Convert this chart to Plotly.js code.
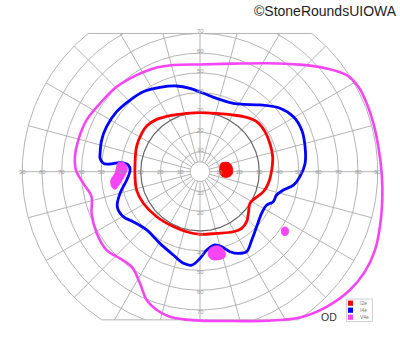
<!DOCTYPE html>
<html><head><meta charset="utf-8">
<script src="https://cdn.plot.ly/plotly-3.0.1.min.js"></script>
<style>html,body{margin:0;padding:0;background:#fff}#chart{width:400px;height:352px}</style>
</head><body><div id="chart"></div>
<script>
// ---- Data (visual field coordinates in degrees: x = horizontal, y = vertical) ----
const i2eX = [-27.0,-21.9,-13.5,-6.8,0,8.4,16.9,23.6,28.7,32.9,35.4,36.8,36.3,34.6,32.1,27.8,25.3,24.5,23.6,21.1,16.9,8.4,0,-6.8,-13.5,-21.9,-28.7,-32.1,-32.9,-32.9,-32.1,-29.5];
const i2eY = [23.1,26.5,28.7,29.5,29.9,29.5,28.7,27.5,25.3,20.3,14.3,7.6,0.8,-5.9,-10.1,-13.5,-16.0,-21.1,-25.3,-28.7,-30.4,-31.2,-31.7,-30.4,-27.8,-22.8,-16.0,-9.3,-2.5,4.2,12.7,19.4];
const i2eSpotX = [10.6,14.3,16.0,16.4,14.9,11.5,10.1,10.1];
const i2eSpotY = [4.2,4.6,3.0,-0.8,-2.5,-2.5,-0.5,2.5];

const i4eX = [-50.6,-50.6,-49.8,-47.3,-42.2,-35.4,-28.7,-20.3,-11.8,-5.1,1.7,8.4,16.9,21.9,30.4,40.5,47.3,51.5,53.2,53.2,50.6,47.3,42.2,38.8,37.1,33.8,31.2,28.7,26.2,23.6,19.4,15.2,11.0,7.6,3.4,0,-4.2,-8.4,-13.5,-20.3,-27.0,-33.8,-38.8,-41.9,-40.5,-37.1,-35.4,-36.3,-40.5,-45.6,-48.9];
const i4eY = [6.8,9.3,16.0,22.8,30.4,36.3,40.5,42.7,43.4,42.2,39.7,37.1,34.6,34.1,33.8,32.1,27.8,21.1,12.7,4.2,-2.5,-6.8,-9.3,-11.8,-15.2,-16.9,-21.1,-27.8,-34.6,-40.5,-41.4,-40.5,-38.0,-37.1,-39.7,-43.9,-47.3,-46.4,-42.2,-36.3,-29.5,-25.3,-22.8,-17.7,-11.0,-4.2,0.8,3.4,4.6,3.9,4.2];

const v4eX = [-23.6,-13.5,0,16.9,33.8,50.6,64.1,74.3,80.2,84.4,87.8,90.3,92.0,92.3,91.1,88.6,83.5,75.9,64.1,50.6,33.8,16.9,0,-6.8,-15.2,-21.9,-27.0,-30.4,-34.6,-40.5,-47.3,-52.3,-54.9,-54.9,-59.1,-62.8,-63.3,-61.6,-57.4,-50.6,-42.2,-32.1];
const v4eY = [52.3,54.0,54.3,54.7,54.9,54.2,52.3,48.9,43.0,34.6,24.5,12.7,-0.8,-14.3,-27.8,-39.7,-50.6,-59.9,-68.4,-73.8,-75.5,-75.6,-75.4,-74.9,-73.4,-70.0,-65.0,-56.5,-48.1,-43.9,-39.7,-31.2,-21.1,-12.7,-5.9,0.8,7.6,16.0,26.2,34.6,43.0,48.9];
const v4eSpot1X = [-41.4,-38.0,-36.8,-38.0,-40.5,-43.0,-44.7,-45.1,-43.0,-42.2];
const v4eSpot1Y = [4.6,4.2,1.7,-1.7,-5.9,-8.9,-7.6,-4.2,-0.8,2.5];
const v4eSpot2X = [5.1,9.3,12.2,12.7,10.1,5.9,4.2];
const v4eSpot2Y = [-38.8,-37.6,-39.7,-43.0,-44.4,-44.4,-42.2];
const v4eSpot3X = [43.0,44.4,44.8,44.3,43.0,41.7,41.2,41.6];
const v4eSpot3Y = [-28.0,-28.6,-30.2,-31.8,-32.4,-31.8,-30.2,-28.6];

const legendLabels = ['I2e','I4e','V4e'];
const legendColors = ['#ff0000','#0000ff','#f545f5'];
const radialTicks = [10,20,30,40,50,60,70,80,90];
const verticalTicks = [10,20,30,40,50,60,70];
const titleText = '©StoneRoundsUIOWA';
const eyeLabel = 'OD';

// ---- Grid geometry ----
const TOP = 70, BOT = -75, RMAX = 90;
const D = Math.PI/180;
function arc(r, a0, a1, xs, ys){
  const n = Math.max(2, Math.ceil(Math.abs(a1-a0)));
  for(let i=0;i<=n;i++){const a=(a0+(a1-a0)*i/n)*D; xs.push(r*Math.cos(a)); ys.push(r*Math.sin(a));}
  xs.push(null); ys.push(null);
}
function circle(r, xs, ys){
  if(r<=TOP){arc(r,0,360,xs,ys);return;}
  const at = Math.asin(TOP/r)/D;
  const ab = r>-BOT ? Math.asin(-BOT/r)/D : 90;
  arc(r,-ab,at,xs,ys);
  arc(r,180-at,180+ab,xs,ys);
}
const gx=[], gy=[];
[5,10,20,40,50,60,70,80,90].forEach(r=>circle(r,gx,gy));
for(let k=0;k<24;k++){
  const th=k*15*D, s=Math.sin(th), c=Math.cos(th);
  let rm=RMAX;
  if(s>1e-9) rm=Math.min(rm,TOP/s);
  if(s<-1e-9) rm=Math.min(rm,-BOT/(-s));
  gx.push(5*c, rm*c, null); gy.push(5*s, rm*s, null);
}
const tw=Math.sqrt(RMAX*RMAX-TOP*TOP), bw=Math.sqrt(RMAX*RMAX-BOT*BOT);
gx.push(-tw,tw,null,-bw,bw,null); gy.push(TOP,TOP,null,BOT,BOT,null);
const dx=[], dy=[]; circle(30,dx,dy);

function closed(a){return a.concat([a[0]]);}
const traces = [
  {x:gx,y:gy,mode:'lines',line:{color:'#b4b4b4',width:1},hoverinfo:'skip'},
  {x:dx,y:dy,mode:'lines',line:{color:'#666666',width:1.2},hoverinfo:'skip'},
  {x:closed(v4eX),y:closed(v4eY),mode:'lines',line:{color:legendColors[2],width:2.6,shape:'spline',smoothing:1},name:legendLabels[2]},
  {x:closed(i4eX),y:closed(i4eY),mode:'lines',line:{color:legendColors[1],width:2.8,shape:'spline',smoothing:1},name:legendLabels[1]},
  {x:closed(i2eX),y:closed(i2eY),mode:'lines',line:{color:legendColors[0],width:2.8,shape:'spline',smoothing:1},name:legendLabels[0]},
];
[[i2eSpotX,i2eSpotY,0],[v4eSpot1X,v4eSpot1Y,2],[v4eSpot2X,v4eSpot2Y,2],[v4eSpot3X,v4eSpot3Y,2]].forEach(s=>{
  traces.push({x:closed(s[0]),y:closed(s[1]),mode:'lines',fill:'toself',fillcolor:legendColors[s[2]],line:{color:legendColors[s[2]],width:1,shape:'spline',smoothing:1},hoverinfo:'skip'});
});

const tickFont={family:'Liberation Sans, Arial, sans-serif',size:6,color:'#9a9a9a'};
const annotations=[];
radialTicks.forEach(v=>{
  annotations.push({x:-v,y:0,text:String(v),showarrow:false,font:tickFont,xanchor:'center',yanchor:'middle'});
  annotations.push({x:v,y:0,text:String(v),showarrow:false,font:tickFont,xanchor:'center',yanchor:'middle'});
});
verticalTicks.forEach(v=>{
  annotations.push({x:0,y:v,text:String(v),showarrow:false,font:tickFont,xanchor:'center',yanchor:'middle',yshift:2});
  annotations.push({x:0,y:-v,text:String(v),showarrow:false,font:tickFont,xanchor:'center',yanchor:'middle',yshift:-2});
});
annotations.push({xref:'paper',yref:'paper',x:0.997,y:0.997,xanchor:'right',yanchor:'top',text:titleText,showarrow:false,font:{family:'Liberation Sans, Arial, sans-serif',size:14,color:'#222'}});
annotations.push({xref:'paper',yref:'paper',x:328.5/400,y:1-317/352,xanchor:'center',yanchor:'middle',text:eyeLabel,showarrow:false,font:{family:'Liberation Sans, Arial, sans-serif',size:10.5,color:'#333'}});

const shapes=[{type:'rect',xref:'paper',yref:'paper',x0:346.5/400,x1:372.5/400,y0:1-321.5/352,y1:1-299/352,line:{color:'#cfcfcf',width:1},fillcolor:'#fff',layer:'above'}];
const legY=[303.2,310.2,317.2];
legendLabels.forEach((lab,i)=>{
  shapes.push({type:'rect',xref:'paper',yref:'paper',x0:348/400,x1:353/400,y0:1-(legY[i]+2.6)/352,y1:1-(legY[i]-2.6)/352,line:{width:0},fillcolor:legendColors[i],layer:'above'});
  annotations.push({xref:'paper',yref:'paper',x:358/400,y:1-legY[i]/352,xanchor:'left',yanchor:'middle',text:lab,showarrow:false,font:{family:'Liberation Sans, Arial, sans-serif',size:5,color:'#777'}});
});

const layout={
  width:400,height:352,margin:{l:0,r:0,t:0,b:0},
  paper_bgcolor:'#fff',plot_bgcolor:'#fff',showlegend:false,
  xaxis:{range:[-200/1.975,200/1.975],visible:false,fixedrange:true},
  yaxis:{range:[-(352-171.7)/1.975,171.7/1.975],visible:false,fixedrange:true},
  annotations:annotations,shapes:shapes
};
Plotly.newPlot('chart',traces,layout,{staticPlot:true,displayModeBar:false});
</script></body></html>
